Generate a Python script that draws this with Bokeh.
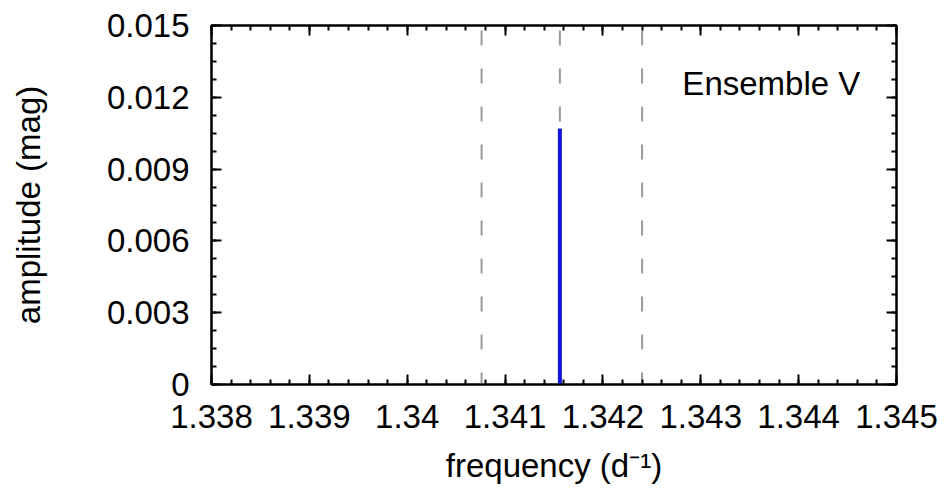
from bokeh.plotting import figure
from bokeh.models import Range1d, FixedTicker, LinearAxis, Label
from bokeh.embed import file_html
from bokeh.resources import INLINE

# Frequency axis ticks and labels
x_ticks = [1.338, 1.339, 1.340, 1.341, 1.342, 1.343, 1.344, 1.345]
x_labels = ["1.338", "1.339", "1.34", "1.341", "1.342", "1.343", "1.344", "1.345"]
# Amplitude axis ticks and labels
y_ticks = [0.0, 0.003, 0.006, 0.009, 0.012, 0.015]
y_labels = ["0", "0.003", "0.006", "0.009", "0.012", "0.015"]

# Detected peak (frequency in d^-1, amplitude in mag)
peak_freq = [1.34156]
peak_amp = [0.0107]
# Frequency resolution markers around the peak
marker_freq = [1.34076, 1.34156, 1.34240]

FONT = "Liberation Sans"
X0, X1 = 1.338, 1.345
Y0, Y1 = 0.0, 0.015

x_minor = [round(X0 + i * 0.0002, 6) for i in range(36)]
y_minor = [round(i * 0.00075, 6) for i in range(21)]

p = figure(width=947, height=494, output_backend="svg", toolbar_location=None,
           x_range=Range1d(X0, X1), y_range=Range1d(Y0, Y1),
           min_border_left=211, min_border_right=51, min_border_top=25,
           min_border_bottom=110)
p.grid.visible = False
p.outline_line_color = "black"
p.outline_line_width = 2
p.background_fill_color = "white"
p.border_fill_color = "white"

xt = FixedTicker(ticks=x_ticks, minor_ticks=x_minor)
yt = FixedTicker(ticks=y_ticks, minor_ticks=y_minor)


def style_axis(ax):
    ax.axis_line_width = 2
    ax.axis_line_color = "black"
    ax.major_tick_in = 10
    ax.major_tick_out = 0
    ax.minor_tick_in = 5
    ax.minor_tick_out = 0
    ax.major_tick_line_width = 2
    ax.minor_tick_line_width = 2
    ax.major_label_text_font = FONT
    ax.major_label_text_font_size = "33px"
    ax.major_label_text_color = "black"
    ax.axis_label_text_font = FONT
    ax.axis_label_text_font_size = "33px"
    ax.axis_label_text_font_style = "normal"
    ax.axis_label_text_color = "black"


xa = p.xaxis[0]
xa.ticker = xt
xa.major_label_overrides = {t: l for t, l in zip(x_ticks, x_labels)}
style_axis(xa)
xa.major_label_standoff = 20
xa.axis_label = "frequency (d\u207b\u00b9)"
xa.axis_label_standoff = 16

ya = p.yaxis[0]
ya.ticker = yt
ya.major_label_overrides = {t: l for t, l in zip(y_ticks, y_labels)}
style_axis(ya)
ya.major_label_standoff = 22
ya.axis_label = "amplitude (mag)"
ya.axis_label_standoff = 57

# Mirrored tick marks on the top and right edges, without labels
top = LinearAxis(ticker=xt)
style_axis(top)
top.major_label_text_alpha = 0
top.major_label_overrides = {t: " " for t in x_ticks}
p.add_layout(top, "above")
right = LinearAxis(ticker=yt)
style_axis(right)
right.major_label_text_alpha = 0
right.major_label_overrides = {t: " " for t in y_ticks}
p.add_layout(right, "right")

# Dashed resolution markers, drawn beneath the peak
p.segment(x0=marker_freq, y0=[Y1] * len(marker_freq), x1=marker_freq,
          y1=[Y0] * len(marker_freq), line_color="#9a9a9a", line_width=2,
          line_dash="15 23", line_dash_offset=33)

p.segment(x0=peak_freq, y0=[0] * len(peak_freq), x1=peak_freq, y1=peak_amp,
          line_color="#1414dc", line_width=4)

p.add_layout(Label(x=1.34463, y=0.01258, text="Ensemble V", text_align="right",
                   text_baseline="alphabetic", text_font=FONT,
                   text_font_size="33px", text_color="black"))

open("out.html", "w").write(file_html(p, INLINE))
